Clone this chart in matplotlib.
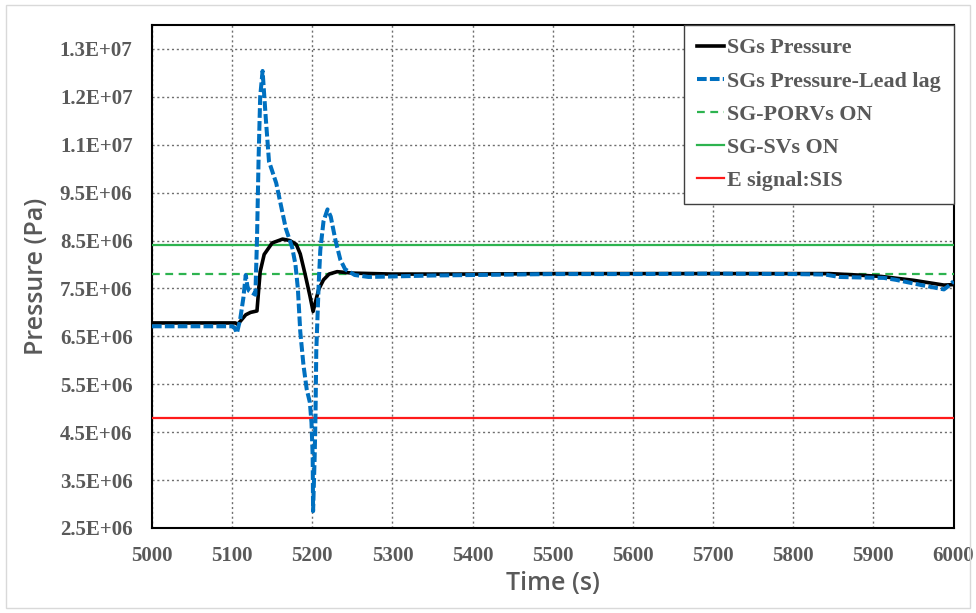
import matplotlib
matplotlib.use("Agg")
import matplotlib.pyplot as plt
from matplotlib.patches import Rectangle

# --- data -------------------------------------------------------------
sg_time = [5000, 5104, 5107, 5112, 5117, 5123, 5131, 5133, 5135, 5140, 5150,
           5163, 5172, 5180, 5185, 5191, 5197, 5201, 5204, 5208, 5214, 5221,
           5231, 5250, 5300, 5400, 5500, 5600, 5700, 5800, 5845, 5880, 5910,
           5950, 5988, 6000]
sg_pressure = [6.78e6, 6.78e6, 6.75e6, 6.85e6, 6.95e6, 7.00e6, 7.03e6, 7.45e6,
               7.85e6, 8.21e6, 8.45e6, 8.53e6, 8.50e6, 8.42e6, 8.22e6, 7.80e6,
               7.35e6, 7.02e6, 7.22e6, 7.48e6, 7.68e6, 7.80e6, 7.85e6, 7.82e6,
               7.80e6, 7.80e6, 7.81e6, 7.81e6, 7.81e6, 7.81e6, 7.81e6, 7.78e6,
               7.75e6, 7.67e6, 7.57e6, 7.58e6]

ll_time = [5000, 5100, 5103, 5106, 5110, 5114, 5117, 5119, 5121, 5129, 5131,
           5133, 5135, 5138, 5142, 5146, 5155, 5167, 5175, 5179, 5182, 5185,
           5189, 5193, 5197, 5199, 5200.5, 5201, 5203, 5204, 5205, 5206.5,
           5208, 5210, 5214, 5219, 5223, 5229, 5235, 5241, 5253, 5270, 5300,
           5350, 5400, 5500, 5600, 5700, 5800, 5840, 5857, 5880, 5913, 5928,
           5960, 5988, 5996, 6000]
ll_pressure = [6.71e6, 6.71e6, 6.68e6, 6.57e6, 6.85e6, 7.30e6, 7.78e6, 7.55e6,
               7.45e6, 7.37e6, 8.50e6, 10.2e6, 11.5e6, 12.04e6, 11.05e6,
               10.15e6, 9.70e6, 8.75e6, 8.35e6, 8.00e6, 7.50e6, 6.60e6, 5.90e6,
               5.40e6, 5.12e6, 4.70e6, 4.00e6, 2.85e6, 4.00e6, 4.83e6, 6.20e6,
               6.90e6, 7.60e6, 8.30e6, 8.90e6, 9.15e6, 9.00e6, 8.50e6, 8.10e6,
               7.90e6, 7.78e6, 7.74e6, 7.75e6, 7.77e6, 7.78e6, 7.80e6, 7.80e6,
               7.81e6, 7.80e6, 7.79e6, 7.74e6, 7.73e6, 7.72e6, 7.68e6, 7.57e6,
               7.48e6, 7.58e6, 7.65e6]

porv_setpoint = 7.8e6
sv_setpoint = 8.4e6
sis_setpoint = 4.8e6

y_ticks = [2.5e6, 3.5e6, 4.5e6, 5.5e6, 6.5e6, 7.5e6, 8.5e6, 9.5e6, 10.5e6,
           11.5e6, 12.5e6]
y_tick_labels = ["2.5E+06", "3.5E+06", "4.5E+06", "5.5E+06", "6.5E+06",
                 "7.5E+06", "8.5E+06", "9.5E+06", "1.1E+07", "1.2E+07",
                 "1.3E+07"]
x_ticks = [5000, 5100, 5200, 5300, 5400, 5500, 5600, 5700, 5800, 5900, 6000]

# --- styling ----------------------------------------------------------
GREY = "#595959"
BLUE = "#0070C0"
GREEN = "#2DB34F"
RED = "#FF1A1A"
serif_bold = dict(family="Liberation Serif", weight="bold", color=GREY)

fig = plt.figure(figsize=(9.76, 6.13), dpi=100)
fig.patches.append(Rectangle((0.006, 0.008), 0.988, 0.984, transform=fig.transFigure,
                             fill=False, edgecolor="#d9d9d9", linewidth=1.0))
ax = fig.add_axes([0.1557, 0.1387, 0.8213, 0.8206])

ax.plot(sg_time, sg_pressure, color="black", linewidth=2.6,
        solid_joinstyle="round", label="SGs Pressure", zorder=4)
ax.plot(ll_time, ll_pressure, color=BLUE, linewidth=2.9,
        linestyle=(0, (2.4, 0.8)), dash_capstyle="butt",
        label="SGs Pressure-Lead lag", zorder=5)
ax.axhline(porv_setpoint, color=GREEN, linewidth=1.6,
           linestyle=(0, (3.5, 2.5)), label="SG-PORVs ON", zorder=3)
ax.axhline(sv_setpoint, color=GREEN, linewidth=1.6,
           label="SG-SVs ON", zorder=3)
ax.axhline(sis_setpoint, color=RED, linewidth=1.6,
           label="E signal:SIS", zorder=3)

ax.set_xlim(5000, 6000)
ax.set_ylim(2.5e6, 13.0e6)
ax.set_xticks(x_ticks)
ax.set_xticklabels([str(t) for t in x_ticks], **serif_bold, fontsize=15)
ax.set_yticks(y_ticks)
ax.set_yticklabels(y_tick_labels, **serif_bold, fontsize=15)
ax.tick_params(axis="both", length=0)
ax.tick_params(axis="y", pad=14)
ax.tick_params(axis="x", pad=13)

ax.grid(True, color="#6e6e6e", linestyle=(0, (1.5, 2.0)), linewidth=1.0)
ax.set_axisbelow(True)
for sp in ax.spines.values():
    sp.set_color("black")
    sp.set_linewidth(1.5)

ax.set_xlabel("Time (s)", family="Open Sans", weight="semibold", fontsize=18,
              color=GREY)
ax.set_ylabel("Pressure (Pa)", family="Open Sans", weight="semibold",
              fontsize=18, color=GREY)
ax.xaxis.set_label_coords(0.5, -0.085)
ax.yaxis.set_label_coords(-0.128, 0.5)

leg = ax.legend(loc="upper right", borderaxespad=0.0, fancybox=False,
                framealpha=1.0, edgecolor="#404040",
                prop=dict(family="Liberation Serif", weight="bold", size=15.8),
                handlelength=1.25, handletextpad=0.1, labelspacing=0.58,
                borderpad=0.6)
leg.get_frame().set_linewidth(1.0)
for t in leg.get_texts():
    t.set_color(GREY)

fig.savefig("out.png", dpi=100)
